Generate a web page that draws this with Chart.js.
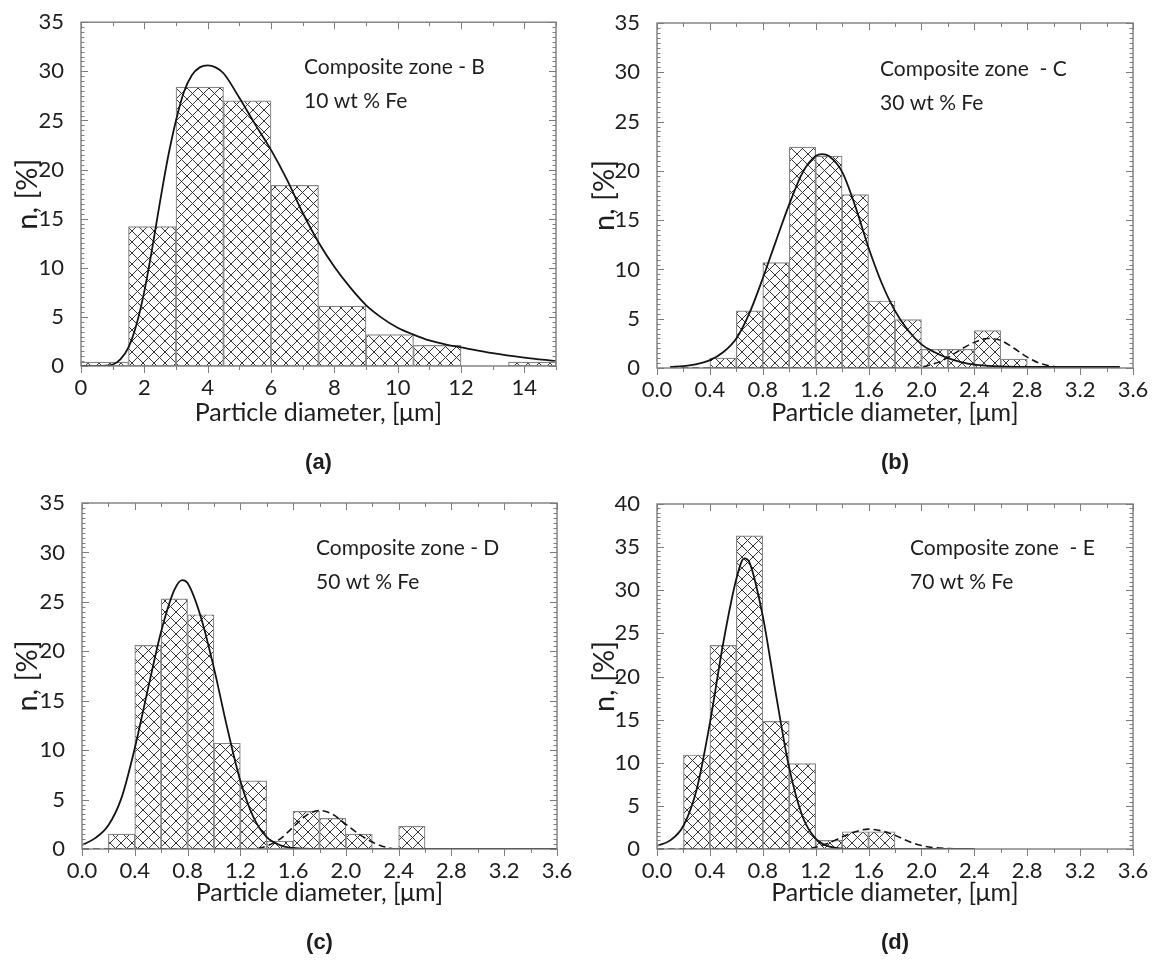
<!DOCTYPE html>
<html>
<head>
<meta charset="utf-8">
<script src="https://cdn.jsdelivr.net/npm/chart.js@4/dist/chart.umd.min.js"></script>
<style>
  body { margin: 0; background: #fff; width: 1154px; height: 961px; position: relative; overflow: hidden; }
  canvas { position: absolute; }
</style>
</head>
<body>
<canvas id="pa" width="577" height="480" style="left:0;top:0"></canvas>
<canvas id="pb" width="577" height="480" style="left:577px;top:0"></canvas>
<canvas id="pc" width="577" height="480" style="left:0;top:480px"></canvas>
<canvas id="pd" width="577" height="480" style="left:577px;top:480px"></canvas>
<script>
// (a) composite zone B, 10 wt % Fe
const binsA = [0.75, 2.25, 3.75, 5.25, 6.75, 8.25, 9.75, 11.25, 14.25];
const countsA = [0.4, 14.2, 28.4, 27.0, 18.4, 6.1, 3.2, 2.1, 0.4];
const fitA = [[0,0],[0.5,0],[1.0,0.15],[1.25,0.7],[1.5,1.9],[1.75,4.2],[2.0,7.6],[2.25,12.0],[2.5,16.8],
  [2.75,21.3],[3.0,25.0],[3.25,27.9],[3.5,29.6],[3.75,30.4],[4.0,30.6],[4.25,30.4],[4.5,29.8],[5.0,27.3],
  [5.5,24.6],[6.0,22.0],[6.5,19.0],[7.0,15.6],[7.5,12.6],[8.0,10.1],[8.5,8.0],[9.0,6.2],[9.5,4.9],
  [10.0,3.9],[10.5,3.2],[11.0,2.6],[11.5,2.2],[12.0,1.9],[13.0,1.3],[14.0,0.85],[15.0,0.5]];
const xTicksA = [0, 2, 4, 6, 8, 10, 12, 14];

// (b) composite zone C, 30 wt % Fe
const binsB = [0.5, 0.7, 0.9, 1.1, 1.3, 1.5, 1.7, 1.9, 2.1, 2.3, 2.5, 2.7];
const countsB = [1.0, 5.8, 10.7, 22.4, 21.5, 17.6, 6.8, 4.9, 1.9, 1.9, 3.8, 0.9];
const fitB = [[0.1,0.1],[0.2,0.2],[0.3,0.4],[0.4,0.8],[0.5,1.6],[0.6,3.0],[0.7,5.6],[0.8,9.1],[0.9,12.9],
  [1.0,16.6],[1.1,19.8],[1.2,21.5],[1.25,21.7],[1.3,21.5],[1.4,19.9],[1.5,16.4],[1.6,12.2],[1.7,8.6],
  [1.8,5.8],[1.9,3.8],[2.0,2.4],[2.1,1.6],[2.2,1.0],[2.3,0.6],[2.4,0.35],[2.6,0.15],[2.8,0.1],[3.5,0.1]];
const fit2B = [[0.1,0],[1.9,0],[2.0,0.1],[2.1,0.45],[2.2,1.05],[2.3,1.9],[2.4,2.6],[2.5,3.0],[2.6,2.8],
  [2.7,2.0],[2.8,1.1],[2.9,0.45],[3.0,0.15],[3.1,0],[3.5,0]];

// (c) composite zone D, 50 wt % Fe
const binsC = [0.3, 0.5, 0.7, 0.9, 1.1, 1.3, 1.5, 1.7, 1.9, 2.1, 2.5];
const countsC = [1.5, 20.6, 25.3, 23.7, 10.7, 6.9, 0.8, 3.8, 3.1, 1.5, 2.3];
const fitC = [[0,0.4],[0.1,1.1],[0.2,2.4],[0.3,5.2],[0.4,10.2],[0.5,16.2],[0.6,22.0],[0.7,26.2],[0.76,27.2],
  [0.8,26.9],[0.9,23.5],[1.0,18.3],[1.1,12.3],[1.2,6.9],[1.3,3.2],[1.4,1.2],[1.5,0.4],[1.6,0.1],[1.8,0],[3.6,0]];
const fit2C = [[0,0],[1.3,0],[1.4,0.3],[1.5,1.0],[1.6,2.2],[1.7,3.4],[1.8,3.9],[1.9,3.5],[2.0,2.5],
  [2.1,1.5],[2.2,0.7],[2.3,0.2],[2.4,0],[3.6,0]];

// (d) composite zone E, 70 wt % Fe
const binsD = [0.3, 0.5, 0.7, 0.9, 1.1, 1.3, 1.5, 1.7];
const countsD = [10.9, 23.6, 36.3, 14.8, 9.9, 1.0, 2.0, 2.0];
const fitD = [[0,0.35],[0.1,1.0],[0.2,2.7],[0.3,6.9],[0.4,14.6],[0.5,23.8],[0.6,31.3],[0.66,33.7],[0.7,33.2],
  [0.8,27.0],[0.9,17.9],[1.0,9.4],[1.1,3.8],[1.2,1.2],[1.3,0.3],[1.4,0.05],[1.5,0],[2.4,0]];
const fit2D = [[0,0],[1.1,0],[1.2,0.2],[1.3,0.7],[1.4,1.4],[1.5,2.0],[1.6,2.3],[1.7,2.1],[1.8,1.6],
  [1.9,0.9],[2.0,0.4],[2.1,0.15],[2.2,0.05],[2.4,0]];

const xTicksSub = [0, 0.4, 0.8, 1.2, 1.6, 2.0, 2.4, 2.8, 3.2, 3.6];
const yTicks35 = [0, 5, 10, 15, 20, 25, 30, 35];
const yTicks40 = [0, 5, 10, 15, 20, 25, 30, 35, 40];

const FONT = 'Lato, "Open Sans", sans-serif';
const INK = '#1e1e1e';
const FRAME = '#7d7d7d';

function hatch() {
    const s = 11;
    const c = document.createElement('canvas');
    c.width = s; c.height = s;
    const g = c.getContext('2d');
    g.fillStyle = '#fff';
    g.fillRect(0, 0, s, s);
    g.strokeStyle = '#363636';
    g.lineWidth = 1;
    g.beginPath();
    g.moveTo(-1, -1); g.lineTo(s + 1, s + 1);
    g.moveTo(s + 1, -1); g.lineTo(-1, s + 1);
    g.stroke();
    return g.createPattern(c, 'repeat');
}

function decor(p) {
    return {
        id: 'decor',
        afterDatasetsDraw(chart) {
            const { ctx, chartArea: a, scales: { x, y } } = chart;
            ctx.save();
            ctx.strokeStyle = FRAME;
            ctx.lineWidth = 1;
            const seg = (x1, y1, x2, y2) => { ctx.beginPath(); ctx.moveTo(x1, y1); ctx.lineTo(x2, y2); ctx.stroke(); };
            const step = p.xTicks[1] - p.xTicks[0];
            for (let v = x.min; v <= x.max + 1e-9; v += step / 2) {
                const major = Math.abs(Math.round(v / step) * step - v) < 1e-6;
                const px = Math.round(x.getPixelForValue(v)) + 0.5;
                const len = major ? 7 : 4;
                seg(px, a.bottom, px, a.bottom + len);
                seg(px, a.top, px, a.top + len);
            }
            for (let v = y.min; v <= y.max + 1e-9; v += 0.5) {
                const major = Math.abs(v % 5) < 1e-6;
                const py = Math.round(y.getPixelForValue(v)) + 0.5;
                const len = major ? 7 : 3.5;
                seg(a.left, py, a.left + len, py);
                seg(a.right, py, a.right - len, py);
            }
            ctx.lineWidth = 1.4;
            ctx.strokeRect(a.left, a.top, a.right - a.left, a.bottom - a.top);
            ctx.restore();
        },
        afterDraw(chart) {
            const { ctx, chartArea: a } = chart;
            ctx.save();
            ctx.fillStyle = INK;
            ctx.textBaseline = 'middle';
            ctx.textAlign = 'left';
            ctx.font = '21px ' + FONT;
            ctx.fillText(p.note[0], p.noteX, p.noteY);
            ctx.fillText(p.note[1], p.noteX, p.noteY + 34);
            ctx.textAlign = 'center';
            ctx.font = 'bold 22px "Liberation Sans", Arial, sans-serif';
            ctx.fillText(p.tag, (a.left + a.right) / 2, 463);
            ctx.restore();
        }
    };
}

function makePanel(id, p) {
    const pattern = hatch();
    const toXY = pts => pts.map(q => ({ x: q[0], y: q[1] }));
    const datasets = [{
        type: 'line',
        data: toXY(p.fit),
        borderColor: '#141414',
        borderWidth: 1.8,
        pointRadius: 0,
        cubicInterpolationMode: 'monotone',
        order: 0
    }];
    if (p.fit2) {
        datasets.push({
            type: 'line',
            data: toXY(p.fit2),
            borderColor: '#141414',
            borderWidth: 1.6,
            borderDash: [7, 4],
            pointRadius: 0,
            cubicInterpolationMode: 'monotone',
            order: 1
        });
    }
    datasets.push({
        type: 'bar',
        data: p.bins.map((b, i) => ({ x: b, y: p.counts[i] })),
        backgroundColor: pattern,
        borderColor: '#858585',
        borderWidth: 1.2,
        borderSkipped: false,
        barPercentage: 1,
        categoryPercentage: 1,
        order: 2
    });

    new Chart(document.getElementById(id), {
        type: 'bar',
        data: { datasets },
        plugins: [decor(p)],
        options: {
            responsive: false,
            animation: false,
            layout: { padding: { left: 0, top: p.top, right: 577 - p.right, bottom: 50 } },
            plugins: { legend: { display: false }, tooltip: { enabled: false } },
            scales: {
                x: {
                    type: 'linear',
                    min: p.xTicks[0],
                    max: p.xMax,
                    offset: false,
                    grid: { display: false },
                    border: { display: false },
                    afterBuildTicks: s => { s.ticks = p.xTicks.map(v => ({ value: v })); },
                    afterFit: s => { s.height = 430 - p.bottom; },
                    ticks: {
                        autoSkip: false,
                        maxRotation: 0,
                        padding: 1,
                        color: INK,
                        font: { family: FONT, size: 22 },
                        callback: v => p.decimals ? v.toFixed(p.decimals) : String(v)
                    },
                    title: {
                        display: true,
                        text: 'Particle diameter, [\u03bcm]',
                        color: INK,
                        font: { family: FONT, size: 25 },
                        padding: { top: 0, bottom: 2 }
                    }
                },
                y: {
                    min: 0,
                    max: p.yTicks[p.yTicks.length - 1],
                    grid: { display: false },
                    border: { display: false },
                    afterBuildTicks: s => { s.ticks = p.yTicks.map(v => ({ value: v })); },
                    afterFit: s => { s.width = p.left; },
                    ticks: {
                        padding: 9,
                        color: INK,
                        font: { family: FONT, size: 22 }
                    },
                    title: {
                        display: true,
                        text: 'n, [%]',
                        color: INK,
                        font: { family: FONT, size: 29 },
                        padding: { top: 10, bottom: 0 }
                    }
                }
            }
        }
    });
}

makePanel('pa', { bins: binsA, counts: countsA, fit: fitA, xTicks: xTicksA, xMax: 15, decimals: 0,
    yTicks: yTicks35, left: 81, top: 21, right: 556, bottom: 366,
    note: ['Composite zone - B', '10 wt % Fe'], noteX: 304, noteY: 67, tag: '(a)' });
makePanel('pb', { bins: binsB, counts: countsB, fit: fitB, fit2: fit2B, xTicks: xTicksSub, xMax: 3.6, decimals: 1,
    yTicks: yTicks35, left: 80, top: 23, right: 556, bottom: 368,
    note: ['Composite zone  - C', '30 wt % Fe'], noteX: 303, noteY: 69, tag: '(b)' });
makePanel('pc', { bins: binsC, counts: countsC, fit: fitC, fit2: fit2C, xTicks: xTicksSub, xMax: 3.6, decimals: 1,
    yTicks: yTicks35, left: 82, top: 23, right: 557, bottom: 369,
    note: ['Composite zone - D', '50 wt % Fe'], noteX: 316, noteY: 68, tag: '(c)' });
makePanel('pd', { bins: binsD, counts: countsD, fit: fitD, fit2: fit2D, xTicks: xTicksSub, xMax: 3.6, decimals: 1,
    yTicks: yTicks40, left: 80, top: 24, right: 556, bottom: 369,
    note: ['Composite zone  - E', '70 wt % Fe'], noteX: 333, noteY: 68, tag: '(d)' });
</script>
</body>
</html>
